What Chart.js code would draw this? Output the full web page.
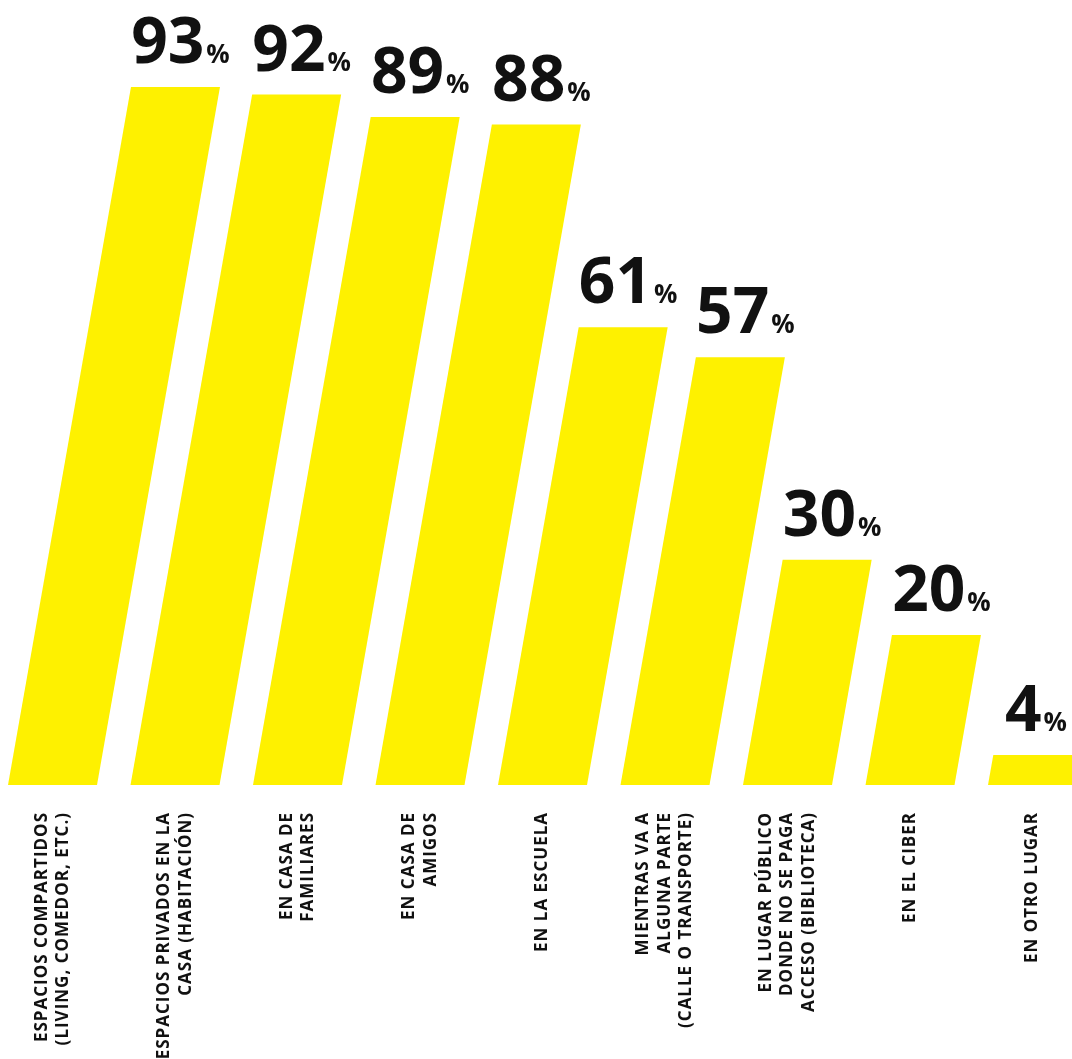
<!DOCTYPE html>
<html>
<head>
<meta charset="utf-8">
<script src="https://cdn.jsdelivr.net/npm/chart.js@4"></script>
<style>
  html, body { margin: 0; padding: 0; background: #ffffff; }
  #wrap { width: 1072px; height: 1059px; position: relative; }
</style>
</head>
<body>
<div id="wrap"><canvas id="c"></canvas></div>
<script>
const categories = [
  ["ESPACIOS COMPARTIDOS", "(LIVING, COMEDOR, ETC.)"],
  ["ESPACIOS PRIVADOS EN LA", "CASA (HABITACIÓN)"],
  ["EN CASA DE", "FAMILIARES"],
  ["EN CASA DE", "AMIGOS"],
  ["EN LA ESCUELA"],
  ["MIENTRAS VA A", "ALGUNA PARTE", "(CALLE O TRANSPORTE)"],
  ["EN LUGAR PÚBLICO", "DONDE NO SE PAGA", "ACCESO (BIBLIOTECA)"],
  ["EN EL CIBER"],
  ["EN OTRO LUGAR"]
];
const values = [93, 92, 89, 88, 61, 57, 30, 20, 4];

const YELLOW = '#FEF100';
const INK = '#111111';
const SLANT = 0.1762;
const FONT = '"Open Sans", Lato, sans-serif';

const slantBars = {
  id: 'slantBars',
  afterDatasetsDraw(chart) {
    const ctx = chart.ctx;
    const meta = chart.getDatasetMeta(0);
    meta.data.forEach((el, i) => {
      const p = el.getProps(['x', 'y', 'base', 'width'], true);
      const shift = (p.base - p.y) * SLANT;
      const l = p.x - p.width / 2, r = p.x + p.width / 2;
      ctx.save();
      ctx.fillStyle = YELLOW;
      ctx.beginPath();
      ctx.moveTo(l, p.base);
      ctx.lineTo(r, p.base);
      ctx.lineTo(r + shift, p.y);
      ctx.lineTo(l + shift, p.y);
      ctx.closePath();
      ctx.fill();
      // value label
      const num = String(values[i]);
      ctx.fillStyle = INK;
      ctx.textBaseline = 'alphabetic';
      ctx.font = 'bold 64px ' + FONT;
      const wn = ctx.measureText(num).width;
      ctx.font = 'bold 26px ' + FONT;
      const wp = ctx.measureText('%').width;
      const gap = 2;
      const total = wn + gap + wp;
      const cx = p.x + shift + 5;
      let x0 = cx - total / 2;
      x0 = Math.min(x0, chart.width - total - 5);
      const by = p.y - 24;
      ctx.textAlign = 'left';
      ctx.font = 'bold 64px ' + FONT;
      ctx.fillText(num, x0, by);
      ctx.font = 'bold 26px ' + FONT;
      ctx.fillText('%', x0 + wn + gap, by);
      ctx.restore();
    });

    // category labels, rotated, group centered on each bar
    const xs = chart.scales.x;
    const L = 21.5;
    const top = chart.chartArea.bottom + 27;
    ctx.save();
    ctx.fillStyle = INK;
    ctx.font = 'bold 17px ' + FONT;
    if ('letterSpacing' in ctx) ctx.letterSpacing = '1px';
    ctx.textAlign = 'right';
    ctx.textBaseline = 'middle';
    categories.forEach((lines, i) => {
      const x = xs.getPixelForValue(i);
      const n = lines.length;
      ctx.save();
      ctx.translate(x, top);
      ctx.rotate(-Math.PI / 2);
      lines.forEach((t, k) => {
        ctx.fillText(t, 0, (k - (n - 1) / 2) * L);
      });
      ctx.restore();
    });
    ctx.restore();
  }
};

new Chart(document.getElementById('c'), {
  type: 'bar',
  data: {
    labels: categories,
    datasets: [{
      data: values,
      backgroundColor: 'rgba(0,0,0,0)',
      borderWidth: 0,
      barThickness: 89
    }]
  },
  options: {
    responsive: true,
    maintainAspectRatio: false,
    animation: false,
    devicePixelRatio: 1,
    layout: { padding: { left: 52.5, right: 39.5, top: 34.5, bottom: 274 } },
    plugins: { legend: { display: false }, tooltip: { enabled: false } },
    scales: {
      x: {
        offset: false,
        border: { display: false },
        grid: { display: false, drawTicks: false },
        ticks: { display: false }
      },
      y: {
        display: false,
        min: 0,
        max: 100
      }
    }
  },
  plugins: [slantBars]
});
</script>
</body>
</html>
